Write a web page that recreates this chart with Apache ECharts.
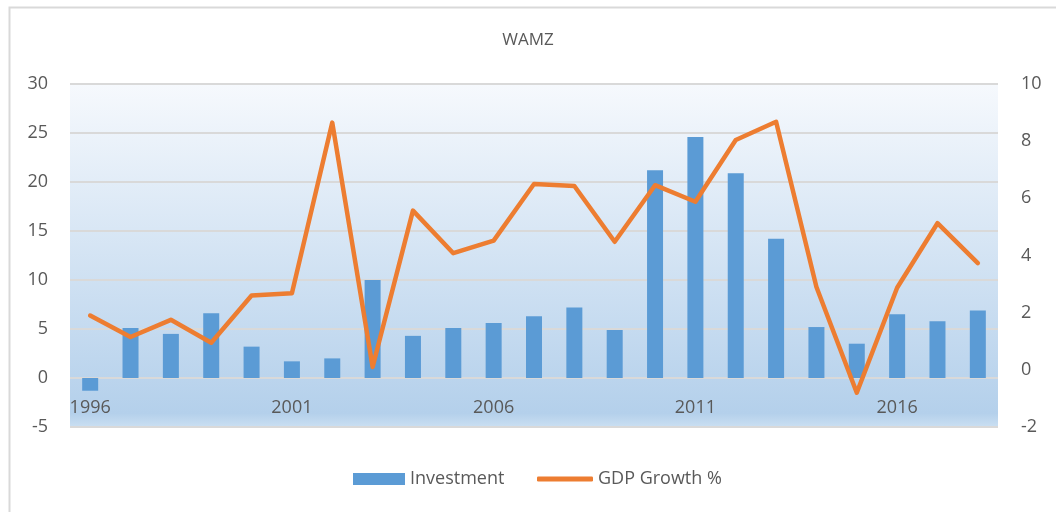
<!DOCTYPE html>
<meta charset="utf-8">
<title>WAMZ</title>
<style>
body { margin: 0; background: #fff; }
#main { width: 1056px; height: 512px; }
</style>
<body>
<div id="main"></div>
<script src="https://cdn.jsdelivr.net/npm/echarts@6/dist/echarts.min.js"></script>
<script>
var years = ['1996','1997','1998','1999','2000','2001','2002','2003','2004','2005','2006',
             '2007','2008','2009','2010','2011','2012','2013','2014','2015','2016','2017','2018'];
var investment = [-1.3, 5.1, 4.5, 6.6, 3.2, 1.7, 2.0, 10.0, 4.3, 5.1, 5.6,
                  6.3, 7.2, 4.9, 21.2, 24.6, 20.9, 14.2, 5.2, 3.5, 6.5, 5.8, 6.9];
var gdpGrowth = [1.9, 1.15, 1.75, 0.95, 2.6, 2.68, 8.65, 0.1, 5.57, 4.08, 4.52,
                 6.5, 6.43, 4.48, 6.46, 5.88, 8.04, 8.68, 2.9, -0.8, 2.87, 5.13, 3.73];

var grey = '#595959';
var font = '"Open Sans", sans-serif';
var legendText = { color: grey, fontSize: 18, fontFamily: font };

var chart = echarts.init(document.getElementById('main'));
chart.setOption({
  animation: false,
  title: {
    text: 'WAMZ', left: 'center', top: 27,
    textStyle: { color: grey, fontSize: 17, fontWeight: 'normal', fontFamily: font }
  },
  graphic: [{
    type: 'rect', left: 7, top: 5, z: -10,
    shape: { width: 1100, height: 600 },
    style: { fill: 'none', stroke: '#d9d9d9', lineWidth: 2 }
  }],
  // two legends so the line key can be thin and the bar key thick
  legend: [{
    top: 465, left: 348, itemWidth: 52, itemHeight: 12, itemGap: 6,
    textStyle: legendText,
    data: [{ name: 'Investment', icon: 'rect' }]
  }, {
    top: 465, left: 532, itemWidth: 56, itemHeight: 5, itemGap: 6,
    textStyle: legendText,
    data: [{ name: 'GDP Growth %', icon: 'roundRect' }]
  }],
  grid: {
    left: 70, right: 58, top: 84, bottom: 85, show: true, borderWidth: 0,
    backgroundColor: {
      type: 'linear', x: 0, y: 0, x2: 0, y2: 1,
      colorStops: [
        { offset: 0, color: '#f6f9fd' },
        { offset: 0.96, color: '#b4d0eb' },
        { offset: 1, color: '#cadff2' }
      ]
    }
  },
  xAxis: {
    type: 'category', data: years,
    axisLine: { show: false },
    axisTick: { show: false },
    axisLabel: { interval: 4, margin: -28, color: grey, fontSize: 18, fontFamily: font }
  },
  yAxis: [{
    type: 'value', min: -5, max: 30, interval: 5,
    axisLine: { show: false }, axisTick: { show: false },
    axisLabel: { margin: 22, color: grey, fontSize: 18, fontFamily: font },
    splitLine: { lineStyle: { color: '#d9d9d9', width: 2 } }
  }, {
    type: 'value', min: -2, max: 10, interval: 2,
    axisLine: { show: false }, axisTick: { show: false },
    axisLabel: { margin: 23, color: grey, fontSize: 18, fontFamily: font },
    splitLine: { show: false }
  }],
  series: [{
    name: 'Investment', type: 'bar', data: investment,
    barWidth: 16, itemStyle: { color: '#5b9bd5' }
  }, {
    name: 'GDP Growth %', type: 'line', yAxisIndex: 1, data: gdpGrowth,
    showSymbol: false, symbol: 'none', z: 5,
    itemStyle: { color: '#ed7d31' },
    lineStyle: { color: '#ed7d31', width: 4.5, cap: 'round', join: 'round' }
  }]
});
</script>
</body>
